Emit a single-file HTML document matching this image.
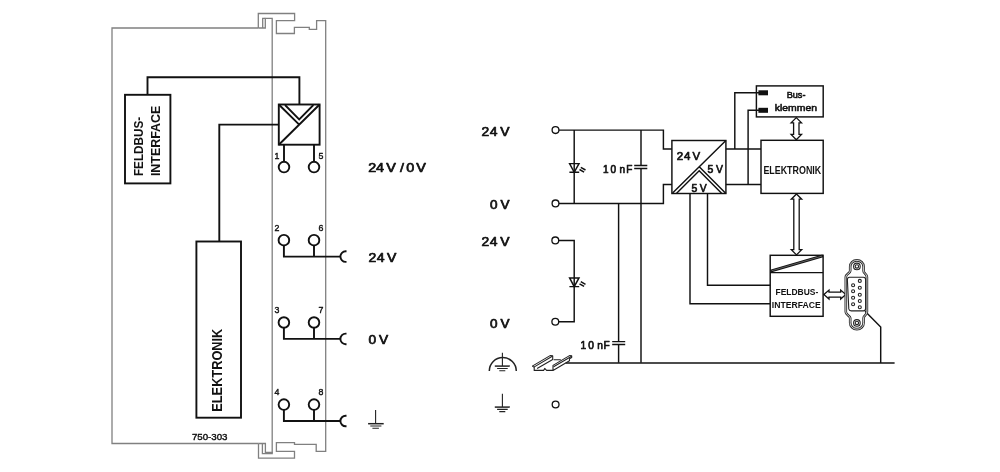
<!DOCTYPE html>
<html lang="de">
<head>
<meta charset="utf-8">
<title>750-303</title>
<style>
html,body{margin:0;padding:0;background:#fff;}
body{width:1000px;height:472px;overflow:hidden;}
svg{display:block;will-change:transform;}
text{font-family:"Liberation Sans",sans-serif;font-weight:bold;fill:#111;}
.r,.r text{font-weight:normal;stroke:#111;stroke-width:.7;stroke-linejoin:round;}
.s,.s text{stroke-width:.4;}
.g{fill:none;stroke:#808080;stroke-width:1.3;}
.k{fill:none;stroke:#111;stroke-width:1.9;}
.m{fill:none;stroke:#111;stroke-width:1.45;}
.t{fill:none;stroke:#222;stroke-width:1.1;}
.w{fill:#fff;stroke:#111;stroke-width:1.3;}
</style>
</head>
<body>
<svg width="1000" height="472" viewBox="0 0 1000 472">
<rect width="1000" height="472" fill="#fff"/>

<!-- ===== left: module housing ===== -->
<g class="g">
<path d="M258.3 28H112V443.5H258.5"/>
<path d="M258.3 28V13.5H294.6V20.6H276.4V33.5H294.4V27.3H309.3V29.4H316.6V20.6H325.7V451.4H316.2V444.4H294.5V442.7H276.4V451.4H294.5V458.1H258.5V443.5"/>
<path d="M258.3 28H265.3V18.4H272.2V452.4H265.4V443.5H258.5"/>
<path d="M262.7 28V18.4H265.3M262.4 443.5V453.6H272.2V452"/>
</g>

<!-- ===== left: circuit ===== -->
<g class="k">
<rect x="125" y="94.8" width="45.4" height="88.6"/>
<path d="M147.5 94.8V77.2H299.4V104.5"/>
<rect x="278.8" y="104.5" width="40.8" height="40.2"/>
<path d="M278.8 144.700L319.6 104.5M278.8 104.5L299.2 124.600"/>
<path d="M285 105L299.2 119.4L313.4 105" stroke-width="1.8"/>
<path d="M278.8 124.6H219.3V241.5"/>
<rect x="196.4" y="241.5" width="44.6" height="176.2"/>
<path d="M284 144.700V161.8M314 144.700V161.8"/>
<circle cx="284" cy="167.1" r="5.3"/><circle cx="314" cy="167.1" r="5.3"/>
<circle cx="283.900" cy="240.2" r="5.3"/><circle cx="314" cy="240.2" r="5.3"/>
<path d="M283.900 245.5V256.6H340.3M314 245.5V256.6"/>
<path d="M346.5 251.3H345.7A5.3 5.3 0 0 0 345.7 261.9H346.5"/>
<circle cx="283.900" cy="322.5" r="5.3"/><circle cx="314" cy="322.5" r="5.3"/>
<path d="M283.900 327.8V338.9H340.3M314 327.8V338.9"/>
<path d="M346.5 333.6H345.7A5.3 5.3 0 0 0 345.7 344.2H346.5"/>
<circle cx="283.900" cy="404.6" r="5.3"/><circle cx="314" cy="404.6" r="5.3"/>
<path d="M283.900 409.900V421H340.3M314 409.900V421"/>
<path d="M346.5 415.700H345.7A5.3 5.3 0 0 0 345.7 426.3H346.5"/>
</g>
<g class="t">
<path d="M375.6 410.1V423.7M370.3 426H381.4M372.4 428.2H378.9"/><path d="M368.1 423.7H383.7" stroke-width="1.5"/>
</g>

<g font-size="8.8" class="r s">
<text x="274.5" y="158.6">1</text><text x="318.600" y="158.6">5</text>
<text x="274.500" y="230.900">2</text><text x="318.600" y="230.900">6</text>
<text x="274.500" y="312.700">3</text><text x="318.600" y="312.700">7</text>
<text x="274.500" y="394.800">4</text><text x="318.600" y="394.800">8</text>
</g>
<text class="r s" x="191.900" y="439.900" font-size="9" textLength="35.6" lengthAdjust="spacingAndGlyphs">750-303</text>
<text transform="translate(142.700,176.1) rotate(-90)" font-size="13.6" textLength="59.4" lengthAdjust="spacingAndGlyphs">FELDBUS-</text>
<text transform="translate(160.4,176.1) rotate(-90)" font-size="13.6" textLength="70.4" lengthAdjust="spacingAndGlyphs">INTERFACE</text>
<text transform="translate(222.4,411.7) rotate(-90)" font-size="15.2" textLength="83" lengthAdjust="spacingAndGlyphs">ELEKTRONIK</text>

<!-- ===== right: schematic ===== -->
<g class="m">
<path d="M558.5 130.1H663.4V148.9H671.9"/>
<path d="M558.5 203.4H663.4V184.5H671.9"/>
<path d="M574.2 130.1V203.4"/>
<path d="M641 130.1V165.5M641 168.4V362.8"/>
<path d="M634.2 165.5H647.3M634.2 168.4H647.3"/>
<path d="M618.6 203.4V341.6M618.6 344.5V362.8"/>
<path d="M612.2 341.6H625.2M612.2 344.5H625.2"/>
<path d="M565.7 363H894.6"/>
<path d="M558.5 240.4H574.2V321.8H558.5"/>
<rect x="671.9" y="140.5" width="54" height="53"/>
<path d="M672.6 192.9L725.9 140.5M699 166.6L725.9 193.5M676.4 193.5L699.2 170.8L721.8 193.5"/>
<path d="M725.9 148.9H761M725.9 184.5H761"/>
<path d="M734.8 148.9V92.8H759.5M748.1 184.5V110.2H759.5"/>
<path d="M690 193.5V303.8H770.2M707.5 193.5V285.2H770.2"/>
<rect x="761" y="140.3" width="62.2" height="53.1"/>
<rect x="770.2" y="255.3" width="52.9" height="61"/>
<path d="M770.2 272.6H823.1"/>
<path d="M770.6 271.1L822.8 255.900" stroke-width="2.7"/><path d="M771.5 270.800L822 256.1" stroke="#fff" stroke-width=".6" opacity=".55"/>
<path d="M865.1 311.3L880.700 327.100V363"/>
</g>
<rect x="756.4" y="85.9" width="66.8" height="31" class="m" stroke-width="1.3"/>
<rect x="758.4" y="90.3" width="9.6" height="5" fill="#111"/>
<rect x="758.4" y="107.8" width="9.6" height="5" fill="#111"/>

<!-- terminals -->
<g class="w" stroke-width="1.4">
<circle cx="555.5" cy="130.1" r="3.4"/><circle cx="555.5" cy="203.4" r="3.4"/>
<circle cx="555.3" cy="240.4" r="3.4"/><circle cx="555.3" cy="321.8" r="3.4"/>
<circle cx="555.6" cy="404.5" r="3.4"/>
</g>

<!-- LEDs -->
<g class="m" stroke-width="1.2">
<path d="M569.600 163.600H579L574.2 172.3ZM569.400 172.3H579.2"/>
<path d="M580.8 167.4L585.5 170M579.5 169.5L584.1 172.100" stroke-width="1.5"/>
</g>
<g class="m" stroke-width="1.2" transform="translate(0,114.3)">
<path d="M569.600 163.600H579L574.2 172.3ZM569.400 172.3H579.2"/>
<path d="M580.8 167.4L585.5 170M579.5 169.5L584.1 172.100" stroke-width="1.5"/>
</g>

<!-- double arrows -->
<g class="w" stroke-width="1.2">
<path d="M796.3 117.6L801.5 122.8H799V134.4H801.5L796.3 139.7L791.1 134.4H793.6V122.8H791.1Z"/>
<path d="M796.5 194L801.7 199.2H799.2V249.6H801.7L796.5 254.9L791.3 249.6H793.8V199.2H791.3Z"/>
<path d="M823.9 294.6L829 290.1V292.1H840.700V290.1L845.8 294.6L840.700 299.1V297.1H829V299.1Z"/>
</g>

<!-- DB9 -->
<g class="t" stroke-width="1">
<path d="M856.900 260.4C860.900 260.4 863.600 263.3 863.600 266.8V271.0C863.600 273.3 866.9 274.0 866.9 277.0V312.0C866.9 315.0 863.600 315.7 863.600 318.0V322.8C863.600 326.2 860.900 329.1 856.900 329.1C852.900 329.1 850.2 326.2 850.2 322.8V318.0C850.2 315.7 845.8 315.0 845.8 312.0V277.0C845.8 274.0 850.2 273.3 850.2 271.0V266.8C850.2 263.3 852.900 260.4 856.900 260.4Z" stroke="#2a2a2a" stroke-width="2.6"/><path d="M856.900 260.4C860.900 260.4 863.600 263.3 863.600 266.8V271.0C863.600 273.3 866.9 274.0 866.9 277.0V312.0C866.9 315.0 863.600 315.7 863.600 318.0V322.8C863.600 326.2 860.900 329.1 856.900 329.1C852.900 329.1 850.2 326.2 850.2 322.8V318.0C850.2 315.7 845.8 315.0 845.8 312.0V277.0C845.8 274.0 850.2 273.3 850.2 271.0V266.8C850.2 263.3 852.900 260.4 856.900 260.4Z" stroke="#fff" stroke-width=".8"/>
<path d="M849.6 277.2H863.4C864.8 277.2 865.6 278 865.6 279.4V308.6C865.6 310 864.8 310.900 863.4 310.900H851.200C849.8 310.900 849 310.200 848.8 308.900L847.4 280.2C847.3 278.2 848.2 277.2 849.6 277.2Z"/>
<circle cx="856.9" cy="266.4" r="3.3"/><circle cx="856.9" cy="266.4" r="1.7"/>
<circle cx="856.9" cy="322.9" r="3.3"/><circle cx="856.9" cy="322.9" r="1.7"/>
<circle cx="853.1" cy="285.2" r="1.5"/><circle cx="853.1" cy="291.3" r="1.5"/><circle cx="853.1" cy="297.700" r="1.5"/><circle cx="853.1" cy="304.200" r="1.5"/>
<circle cx="859.8" cy="280.9" r="1.5"/><circle cx="859.8" cy="287.700" r="1.5"/><circle cx="859.8" cy="294.700" r="1.5"/><circle cx="859.8" cy="301" r="1.5"/><circle cx="859.8" cy="307.2" r="1.5"/>
</g>

<!-- earth symbols -->
<g class="t">
<path d="M489.3 371.1A13.5 13.5 0 0 1 516.3 371.1" stroke-width="1.5"/>
<path d="M502.4 352.700V366M497.100 368.500H507.700M499.300 370.800H505.300"/><path d="M494.800 366.100H509.800" stroke-width="1.5"/>
<path d="M502.400 393.700V407M497.100 409.400H507.700M499.300 411.600H505.300"/><path d="M494.800 407.100H509.800" stroke-width="1.5"/>
</g>

<!-- DIN rail -->
<g class="t" stroke-width="1.15" stroke="#1a1a1a" stroke-linejoin="round">
<path d="M532.3 366.100L550.100 355.600L552.700 355.900V359.400L537.100 368.400"/>
<path d="M533.900 367.100L552.300 356.300"/>
<path d="M532.300 366.100L534.200 367.300V370.400H543.600L544.700 368.400L546.600 370.400H553L569.500 360.800V358.800L571.700 357.500V355.900L569.500 355.600L553 365.400V370.400"/>
<path d="M553.600 366.700L571.700 356.200M553.600 359.800H560.800"/>
</g>

<!-- text labels -->
<text class="r" transform="scale(1.1269,1)" x="326.68 333.77 340.51 342.87 351.35 354.86 358.41 360.44 367.06 369.49" y="172.3" font-size="12.79">24 V / 0 V</text>
<text class="r" transform="scale(1.0848,1)" x="339.71 347.21 354.03 356.78" y="262.1" font-size="12.94">24 V</text>
<text class="r" transform="scale(1.0734,1)" x="343.38 349.99 353.01" y="344.3" font-size="12.79">0 V</text>
<text class="r" transform="scale(1.0752,1)" x="447.85 455.52 462.34 465.27" y="136.0" font-size="12.94">24 V</text>
<text class="r" transform="scale(1.0596,1)" x="462.45 469.06 472.31" y="209.0" font-size="12.79">0 V</text>
<text class="r" transform="scale(1.0752,1)" x="447.85 455.52 462.34 465.27" y="246.0" font-size="12.94">24 V</text>
<text class="r" transform="scale(1.0596,1)" x="462.45 469.06 472.31" y="327.9" font-size="12.79">0 V</text>
<text class="r" transform="scale(0.9210,1)" x="654.81 662.94 668.58 672.76 679.95" y="172.8" font-size="10.90">10 nF</text>
<text class="r" transform="scale(0.9361,1)" x="620.17 628.49 634.12 637.99 644.79" y="348.8" font-size="10.90">10 nF</text>
<text class="r" transform="scale(1.0690,1)" x="632.98 639.89 645.55 647.77" y="160.1" font-size="10.76">24 V</text>
<text class="r" transform="scale(0.9821,1)" x="720.32 725.78 729.09" y="172.6" font-size="10.61">5 V</text>
<text class="r" transform="scale(0.9821,1)" x="704.08 709.54 712.55" y="192.2" font-size="10.61">5 V</text>
<text x="763.4" y="174.4" font-size="10.2" textLength="57.8" lengthAdjust="spacingAndGlyphs">ELEKTRONIK</text>
<text class="r s" style="stroke-width:.55" x="786.7" y="97.8" font-size="9.3" textLength="18.8" lengthAdjust="spacingAndGlyphs">Bus-</text>
<text class="r s" style="stroke-width:.55" x="774.8" y="110.9" font-size="9.3" textLength="42.2" lengthAdjust="spacingAndGlyphs">klemmen</text>
<text x="775.5" y="295" font-size="9.3" textLength="42.8" lengthAdjust="spacingAndGlyphs">FELDBUS-</text>
<text x="771.8" y="307.9" font-size="9.3" textLength="49" lengthAdjust="spacingAndGlyphs">INTERFACE</text>
</svg>
</body>
</html>
